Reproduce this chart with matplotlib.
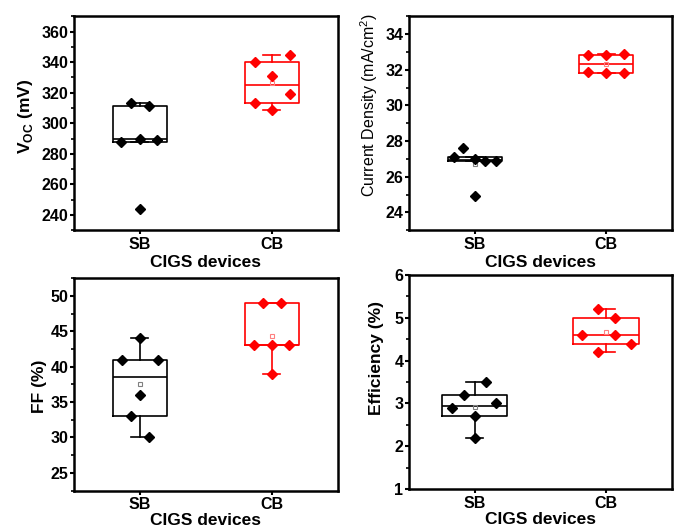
import numpy as np
import matplotlib
matplotlib.use('Agg')
import matplotlib.pyplot as plt
from matplotlib.ticker import AutoMinorLocator

# 字体设置
plt.rcParams['font.family'] = ['Liberation Sans', 'DejaVu Sans']
plt.rcParams['mathtext.fontset'] = 'custom'
plt.rcParams['mathtext.rm'] = 'Liberation Sans'
plt.rcParams['mathtext.bf'] = 'Liberation Sans:bold'

groups = ['SB', 'CB']

# 每组6个器件的测量值
voc_sb = [313, 311, 288, 290, 289, 244]
voc_cb = [340, 345, 331, 319, 313, 309]
jsc_sb = [27.1, 27.6, 27.0, 26.9, 26.9, 24.9]
jsc_cb = [32.83, 32.85, 32.91, 31.88, 31.8, 31.8]
ff_sb = [44, 41, 41, 36, 33, 30]
ff_cb = [49, 49, 43, 43, 43, 39]
eff_sb = [3.5, 3.2, 2.9, 3.0, 2.7, 2.2]
eff_cb = [5.2, 5.0, 4.6, 4.6, 4.4, 4.2]

# 散点的水平抖动
jit_voc_sb = [-0.07, 0.07, -0.14, 0, 0.13, 0]
jit_voc_cb = [-0.13, 0.14, 0, 0.14, -0.13, 0]
jit_jsc_sb = [-0.16, -0.085, 0, 0.08, 0.16, 0]
jit_jsc_cb = [-0.135, 0, 0.135, -0.135, 0, 0.135]
jit_ff_sb = [0, -0.135, 0.135, 0, -0.07, 0.07]
jit_ff_cb = [-0.066, 0.069, -0.135, 0, 0.13, 0]
jit_eff_sb = [0.084, -0.08, -0.17, 0.165, 0, 0]
jit_eff_cb = [-0.064, 0.07, -0.186, 0.07, 0.19, -0.064]

colors = ['black', 'red']
mean_colors = ['#808080', '#ff8080']


def tukey(v):
    # 箱线图统计量（Tukey hinges, 1.5 IQR）
    s = np.sort(v)
    n = len(s)
    h = (n + 1) // 2
    q1, q3 = np.median(s[:h]), np.median(s[n - h:])
    iqr = q3 - q1
    return dict(med=np.median(s), q1=q1, q3=q3,
                whislo=s[s >= q1 - 1.5 * iqr].min(),
                whishi=s[s <= q3 + 1.5 * iqr].max(),
                mean=np.mean(s), fliers=[])


def panel(ax, data, jits, width, ylim, yticks, ylabel, labpos,
          weight='bold', ysize=12.5, xpad=2):
    for i, (vals, jit) in enumerate(zip(data, jits)):
        c = colors[i]
        ax.bxp([tukey(vals)], positions=[i + 1], widths=width, showfliers=False,
               showmeans=True, capwidths=0.13,
               boxprops=dict(color=c, lw=1.2),
               medianprops=dict(color=c, lw=1.2),
               whiskerprops=dict(color=c, lw=1.2),
               capprops=dict(color=c, lw=1.2),
               meanprops=dict(marker='s', ms=2.5, mfc='none', mec=mean_colors[i], mew=0.8))
        ax.plot(i + 1 + np.array(jit), vals, 'D', color=c, ms=4.6, zorder=3)
    ax.set_xlim(0.5, 2.5)
    ax.set_ylim(*ylim)
    ax.set_yticks(yticks)
    ax.set_xticks([1, 2])
    ax.set_xticklabels(groups)
    ax.yaxis.set_minor_locator(AutoMinorLocator(2))
    ax.tick_params(which='major', direction='out', length=3, width=1.5, labelsize=11.5)
    ax.tick_params(axis='x', which='major', pad=2)
    ax.tick_params(axis='y', which='major', pad=1)
    ax.tick_params(which='minor', direction='out', length=2, width=1.2)
    ax.tick_params(axis='x', which='minor', bottom=False)
    for lab in ax.get_xticklabels() + ax.get_yticklabels():
        lab.set_fontweight('bold')
    for sp in ax.spines.values():
        sp.set_linewidth(1.8)
    ax.set_xlabel('CIGS devices', fontsize=12.5, fontweight='bold', labelpad=xpad)
    ax.set_ylabel(ylabel, fontsize=ysize, fontweight=weight, va='center')
    ax.yaxis.set_label_coords(*labpos)


fig = plt.figure(figsize=(6.78, 5.28), dpi=100)
ax1 = fig.add_axes([0.109, 0.564, 0.389, 0.405])
ax2 = fig.add_axes([0.603, 0.564, 0.388, 0.405])
ax3 = fig.add_axes([0.109, 0.071, 0.389, 0.402])
ax4 = fig.add_axes([0.603, 0.074, 0.388, 0.405])

panel(ax1, [voc_sb, voc_cb], [jit_voc_sb, jit_voc_cb], 0.41, (230, 370),
      np.arange(240, 361, 20), r'V$_{\mathbf{OC}}$ (mV)', (-0.182, 0.533))
panel(ax2, [jsc_sb, jsc_cb], [jit_jsc_sb, jit_jsc_cb], 0.41, (23, 35),
      np.arange(24, 35, 2), r'Current Density (mA/cm$^{2}$)', (-0.149, 0.584),
      weight='normal', ysize=11.5)
panel(ax3, [ff_sb, ff_cb], [jit_ff_sb, jit_ff_cb], 0.41, (22.5, 52.5),
      np.arange(25, 51, 5), 'FF (%)', (-0.131, 0.493), xpad=0.5)
panel(ax4, [eff_sb, eff_cb], [jit_eff_sb, jit_eff_cb], 0.5, (1, 6),
      np.arange(1, 7, 1), 'Efficiency (%)', (-0.123, 0.612), xpad=0.5)

fig.savefig('out.png', dpi=100)
